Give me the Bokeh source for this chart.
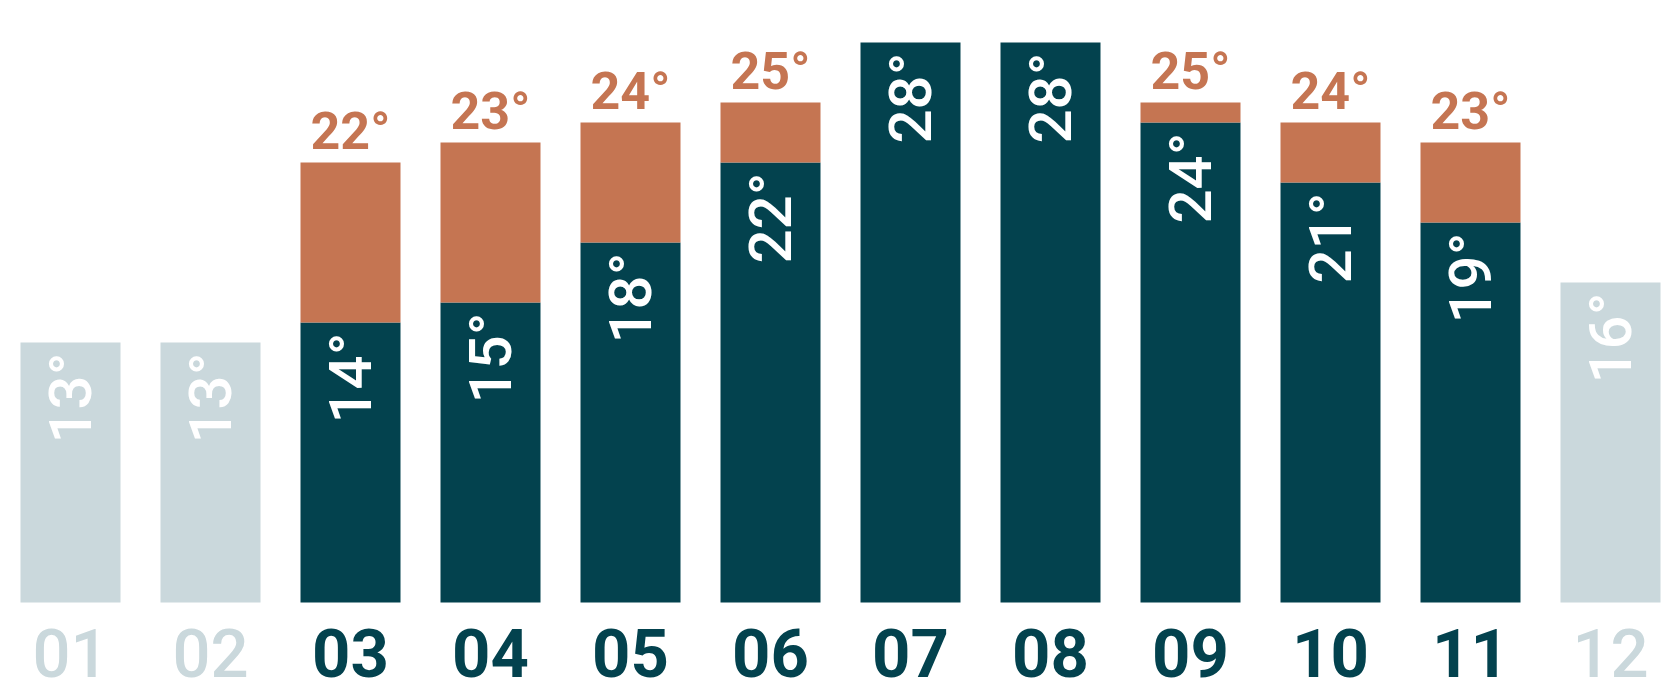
import math
from bokeh.plotting import figure
from bokeh.models import ColumnDataSource, Range1d
from bokeh.core.properties import value
from bokeh.embed import file_html
from bokeh.resources import INLINE

months = ["01", "02", "03", "04", "05", "06", "07", "08", "09", "10", "11", "12"]
low = [13, 13, 14, 15, 18, 22, 28, 28, 24, 21, 19, 16]
high = [None, None, 22, 23, 24, 25, 28, 28, 25, 24, 23, None]

DARK = "#03424E"
ORANGE = "#C57552"
LIGHT = "#CAD8DC"
FONT = "Roboto"
FONT_MED = "Roboto Medium"

xs = list(range(1, len(months) + 1))
active = [h is not None for h in high]

p = figure(width=1664, height=692, output_backend="svg", toolbar_location=None,
           x_range=Range1d(0.5, 12.3857), y_range=Range1d(-4.5, 30.1),
           min_border=0)
p.xaxis.visible = False
p.yaxis.visible = False
p.xgrid.visible = False
p.ygrid.visible = False
p.outline_line_color = None
p.background_fill_color = "white"

bar_w = 100 / 140

# base bars
base = ColumnDataSource(dict(
    x=xs, top=low,
    color=[DARK if a else LIGHT for a in active],
    label=[f"{v}°" for v in low],
))
p.vbar(x="x", top="top", bottom=0, width=bar_w, color="color", line_color=None, source=base)

# orange upper segments
ox = [x for x, h in zip(xs, high) if h is not None and h > low[x - 1]]
ob = [low[x - 1] for x in ox]
ot = [high[x - 1] for x in ox]
p.vbar(x=ox, bottom=ob, top=ot, width=bar_w, color=ORANGE, line_color=None)

# orange labels above
p.text(x=ox, y=ot, text=[f"{v}°" for v in ot], text_align="center",
       text_baseline="middle", y_offset=-31, text_color=ORANGE,
       text_font=value(FONT), text_font_style="bold", text_font_size="52px")

# inner rotated labels
p.text(x="x", y="top", text="label", source=base, angle=math.pi / 2,
       text_align="right", text_baseline="middle", x_offset=0, y_offset=10,
       text_color="white", text_font=value(FONT_MED), text_font_style="normal",
       text_font_size="60px")

# month labels
ax = [x for x, a in zip(xs, active) if a]
ix = [x for x, a in zip(xs, active) if not a]
p.text(x=ax, y=[-2.5] * len(ax), text=[months[x - 1] for x in ax], text_align="center",
       text_baseline="middle", text_color=DARK,
       text_font=value(FONT), text_font_style="bold", text_font_size="67px")
p.text(x=ix, y=[-2.5] * len(ix), text=[months[x - 1] for x in ix], text_align="center",
       text_baseline="middle", text_color=LIGHT,
       text_font=value(FONT_MED), text_font_style="normal", text_font_size="67px")

open("out.html", "w").write(file_html(p, INLINE))
